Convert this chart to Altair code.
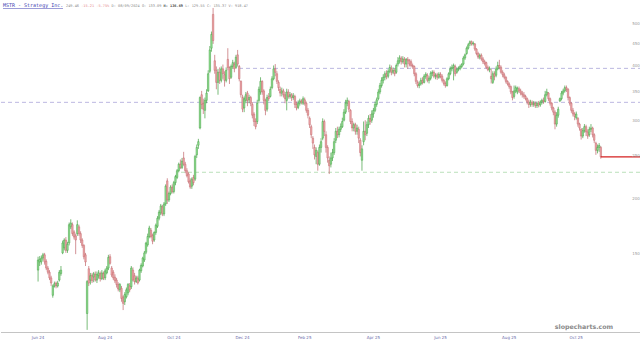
import altair as alt
import pandas as pd

# ---------------- data ----------------
opens = [138,144,144,147,149.5,144.5,139.5,136.5,132.5,121,127,129,127,131,135.5,151,155,161.5,153,159,
         173,175,168.5,165,167,173,167,161.5,157,149.5,110,139,131,134.5,133.09,135,131,134,135.5,132,
         135.5,132.5,136,139.5,148,139.5,136.5,133,131,128,124.5,125.5,120,117,120,122.5,127,126.5,138,134,
         130,132.5,131,137.5,141,145.5,151.5,157.5,164.5,170,165.5,161.5,168,173.5,181,186,192,185,195,220,
         199,206,213,208,218,224,232,240,236,248,240,232,228,220,214,224,222,252,265,290,
         345,330,318,335,352,390,440,525,412,392,368,388,372,395,383,372,415,398,378,400,
         405,398,425,400,370,340,322,335,348,336,340,328,312,300,300,335,350,370,352,335,
         320,342,342,358,375,395,385,368,355,348,352,345,335,350,342,345,340,342,328,323,
         330,334,330,336,330,318,305,292,275,262,250,255,240,262,275,300,280,262,245,240,
         248,255,272,285,280,288,292,302,315,330,333,318,300,290,295,285,288,272,245,270,
         285,282,295,305,302,312,318,328,338,350,362,372,378,385,380,390,396,388,392,388,
         405,412,418,410,415,405,415,412,410,402,400,385,368,362,365,372,368,380,382,372,
         376,386,388,380,383,378,384,380,372,366,362,375,385,395,398,400,388,394,396,400,
         405,418,428,440,450,455,450,450,438,428,420,424,416,410,408,398,393,380,368,385,
         382,395,402,398,388,383,378,370,365,360,350,342,352,350,356,352,348,345,342,338,
         332,328,332,328,330,326,330,327,332,335,333,345,348,338,330,322,315,296,310,334,
         338,348,352,358,355,340,330,318,312,306,305,296,288,278,286,292,284,280,288,290,
         280,268,258,262,262]
highs = [148,148.5,149,151,151,146,141,138,134,128,130,130,130.5,138,141,161,163,164,160,177,
         180,177,170,167,179,175,169,163,158,151,131,141,136,136,136.69,137,137,138,137,138,
         137,139,141,149.5,150,141,138,135,132.5,129.5,129,127,121,123,126,129,129,141,140,136,
         134,134,139,143,148,152.5,160,167,174,172,167,169,176,183,189,195,194,197,216,223,
         208,215,216,220,227,234,242,246,248,256,243,235,230,223,224,227,252,266,274,342,
         352,338,340,355,392,445,480,543,425,400,395,398,400,404,390,398,440,400,404,414,
         410,425,436,403,372,345,342,350,352,345,343,332,315,305,336,360,378,372,355,338,
         345,348,360,380,402,405,390,372,360,358,356,350,356,355,350,348,348,345,333,335,
         338,337,342,340,333,322,308,295,278,266,262,258,266,275,305,303,285,265,250,255,
         260,275,290,292,292,297,306,320,336,340,336,320,305,298,298,295,292,275,265,300,
         302,300,310,312,318,322,333,340,355,367,378,384,390,392,394,404,402,398,396,406,
         420,424,422,422,420,418,420,416,415,406,402,388,372,370,377,378,384,388,386,380,
         390,392,392,386,387,388,388,384,375,370,378,388,400,404,406,404,398,400,404,407,
         422,428,444,452,458,458,456,452,440,432,428,428,420,414,410,402,400,395,390,390,
         400,410,414,402,392,387,380,372,368,362,352,362,362,360,360,356,352,350,345,340,
         336,336,335,334,333,333,334,335,338,340,352,356,350,340,332,324,318,315,324,340,
         352,356,362,362,357,342,332,322,315,316,307,298,290,290,296,295,288,292,296,292,
         282,270,266,268,264]
lows = [130,141,142,145,142,138,135,131,127,119.5,126,125.5,126,130,134,150,153,151,151,157,
        171,165,162,150,165,165,159,155,146,141,101,127,128,129,129.55,130,129,132,130,131,
        131,131,135,138,142,133,131,129,126,123.5,123,117,112,115,119,121,123,125,130,128,
        129,128,130,136,140,144,150,156,163,163,158,160,166,172,179,184,183,183,193,195,
        197,204,206,206,215,222,230,234,234,238,229,224,217,211,211,215,220,248,260,288,
        320,312,305,330,350,386,432,450,385,355,345,365,368,375,360,368,392,365,375,395,
        388,395,400,370,340,315,315,330,325,330,325,305,293,288,296,330,345,345,328,310,
        316,334,340,355,372,380,365,352,342,342,340,330,318,338,338,334,336,322,318,320,
        326,328,327,326,314,305,290,275,260,246,240,232,238,255,272,278,255,242,228,236,
        244,252,268,275,276,284,290,300,312,325,315,296,285,285,280,280,268,250,232,265,
        272,278,290,295,298,306,315,324,335,346,358,366,372,374,376,386,382,384,380,385,
        400,406,404,406,398,398,395,400,398,395,380,365,358,357,362,364,366,375,368,366,
        372,380,376,374,373,375,376,368,362,358,360,372,382,390,372,380,385,390,392,396,
        402,414,425,437,445,446,446,434,424,416,415,412,405,402,395,390,388,366,365,372,
        378,392,394,385,378,374,366,362,356,346,335,338,348,346,348,344,340,338,335,328,
        322,324,324,324,322,322,323,324,328,329,331,342,334,326,318,310,288,292,306,332,
        335,344,349,350,335,326,314,308,302,303,292,286,273,275,283,278,274,277,284,276,
        268,252,254,256,247]
closes = [145.5,146,147,149.5,144,139.5,136.5,132.5,129,127,128.5,127,129,136.5,138,159,161.5,153,158,175,
          176.5,167,164,161.5,175,167,161.5,157,148,144,130,129,134,130.5,135.37,131,135,136,132,136,
          132.5,137.5,139.5,147.5,143,134.5,132.5,130.5,128,125,128,119,116,121.5,124.5,128,124.5,139.5,131,130,
          132.5,129,138,141.5,147,151,159,164.5,172,164.5,160.5,168,174.5,181,187,193,185,195,214,199,
          206,213,208,218,225,232,240,236,244,240,232,226,219,213,222,218,250,262,270,340,
          328,320,335,348,385,436,473,458,392,368,388,372,395,385,372,392,398,375,400,408,
          395,420,405,375,345,320,338,345,335,340,330,310,300,292,330,355,370,350,335,318,
          340,338,355,375,395,388,370,358,348,352,345,338,350,342,345,340,343,328,322,330,
          334,332,338,330,318,310,295,280,268,252,258,240,262,270,300,285,262,248,238,248,
          255,270,285,280,288,292,300,315,330,335,320,300,290,295,285,290,275,255,260,285,
          280,295,305,300,312,318,328,336,350,362,372,378,385,380,390,398,388,392,385,402,
          412,418,410,416,405,415,412,405,402,400,385,370,362,365,372,368,380,384,372,376,
          386,388,380,382,378,384,380,372,366,362,375,385,395,398,402,385,394,396,400,404,
          418,425,440,448,455,450,452,438,428,420,424,416,410,406,398,393,396,375,385,380,
          395,402,398,388,383,378,370,365,360,350,340,352,358,357,352,348,345,342,338,332,
          328,332,328,330,326,330,327,332,335,333,345,350,338,330,322,315,296,310,320,338,
          348,352,358,355,340,330,318,312,308,312,296,290,278,286,292,284,278,288,290,280,
          272,258,262,264.67,249.46]

tick_labels = ["Jun 24", "Aug 24", "Oct 24", "Dec 24", "Feb 25", "Apr 25", "Jun 25", "Aug 25", "Oct 25"]
tick_index = [0, 41, 83, 125, 163, 205, 246, 288, 329]
price_labels = [150, 200, 250, 300, 350, 400, 450, 500]
level_upper = 396
level_mid = 331.6
level_low = 230.1
last_close = 249.46

header_name = "MSTR - Strategy Inc."
header_parts = [
    ("249.46", "#8a8a8a", False),
    ("-15.21", "#e58a8a", False),
    ("-5.75%", "#e58a8a", False),
    ("D: 08/09/2024", "#8a8a8a", False),
    ("O: 133.09", "#8a8a8a", False),
    ("H: 136.69", "#4a4a4a", True),
    ("L: 129.55", "#8a8a8a", False),
    ("C: 135.37", "#8a8a8a", False),
    ("V: 918.47", "#8a8a8a", False),
]

n = len(closes)
df = pd.DataFrame({"k": list(range(n)), "o": opens, "h": highs, "l": lows, "c": closes})

xscale = alt.Scale(domain=[-19.6, 364.3], nice=False, zero=False)
yscale = alt.Scale(type="log", domain=[94.3, 566], nice=False, zero=False)

UP_FILL, UP_LINE = "#97df97", "#3f9f3f"
DN_FILL, DN_LINE = "#efa9ab", "#c0646a"
is_up = "datum.c >= datum.o"

base = alt.Chart(df)
wicks = base.mark_rule(strokeWidth=0.7).encode(
    x=alt.X("k:Q", scale=xscale, axis=None),
    y=alt.Y("l:Q", scale=yscale, axis=None),
    y2="h:Q",
    color=alt.condition(is_up, alt.value(UP_LINE), alt.value(DN_LINE)),
)
bodies = base.mark_bar(width=1.5, strokeWidth=0.45).encode(
    x=alt.X("k:Q", scale=xscale, axis=None),
    y=alt.Y("o:Q", scale=yscale, axis=None),
    y2="c:Q",
    fill=alt.condition(is_up, alt.value(UP_FILL), alt.value(DN_FILL)),
    stroke=alt.condition(is_up, alt.value(UP_LINE), alt.value(DN_LINE)),
)

def level(v, x0, color):
    return alt.Chart(pd.DataFrame({"v": [v]})).mark_rule(
        strokeDash=[4, 3], strokeWidth=0.8, color=color
    ).encode(y=alt.Y("v:Q", scale=yscale, axis=None), x=alt.value(x0), x2=alt.value(640))

lv1 = level(level_upper, 238, "#a9a4d8")
lv2 = level(level_mid, 0, "#a9a4d8")
lv3 = level(level_low, 180, "#a8d8a8")

last_line = alt.Chart(pd.DataFrame({"v": [last_close], "k": [n - 1]})).mark_rule(
    color="#d42020", strokeWidth=1.3
).encode(x=alt.X("k:Q", scale=xscale, axis=None), x2=alt.value(640),
         y=alt.Y("v:Q", scale=yscale, axis=None))

ylabels = alt.Chart(pd.DataFrame({"p": price_labels})).mark_text(
    fontSize=4, color="#9a9a9a", align="center", font="DejaVu Sans"
).encode(y=alt.Y("p:Q", scale=yscale, axis=None), x=alt.value(635), text=alt.Text("p:Q"))

axis_line = alt.Chart(pd.DataFrame({"a": [0]})).mark_rule(color="#c4c4c4", strokeWidth=1.2).encode(
    x=alt.value(0), x2=alt.value(640), y=alt.value(332.5))

xlabels = alt.Chart(pd.DataFrame({"i": tick_index, "t": tick_labels})).mark_text(
    fontSize=4, color="#6a6aa8", align="center", font="DejaVu Sans"
).encode(x=alt.X("i:Q", scale=xscale, axis=None), y=alt.value(338), text="t:N")

watermark = alt.Chart(pd.DataFrame({"t": ["slopecharts.com"]})).mark_text(
    fontSize=6.3, fontWeight="bold", color="#8a8a8a", align="center", font="DejaVu Sans"
).encode(x=alt.value(583), y=alt.value(327), text="t:N")

def ttext(t, x, color, size, bold=False):
    return alt.Chart(pd.DataFrame({"t": [t]})).mark_text(
        fontSize=size, color=color, align="left", baseline="alphabetic",
        font="DejaVu Sans Mono", fontWeight="bold" if bold else "normal"
    ).encode(x=alt.value(x), y=alt.value(7), text="t:N")

# header: name in a larger mono font, the quote in a small mono font laid out one after another
CH = 0.602 * 3.6
title_layers = [ttext(header_name, 2, "#3b3bb0", 5)]
pos = 65.0
for txt, col, bold in header_parts:
    title_layers.append(ttext(txt, round(pos, 1), col, 3.6, bold))
    pos += (len(txt) + 1) * CH

underline = alt.Chart(pd.DataFrame({"a": [0]})).mark_rule(color="#3b3bb0", strokeWidth=0.5).encode(
    x=alt.value(2), x2=alt.value(62), y=alt.value(8.5))

chart = alt.layer(
    lv2, lv1, lv3, wicks, bodies, last_line, ylabels, axis_line, xlabels, watermark,
    *title_layers, underline
).properties(
    width=640, height=343,
    autosize=alt.AutoSizeParams(type="fit", contains="padding"),
    padding=0, background="white"
).configure_view(stroke=None)

chart.save("out.html", embed_options={"renderer": "svg", "actions": False})
